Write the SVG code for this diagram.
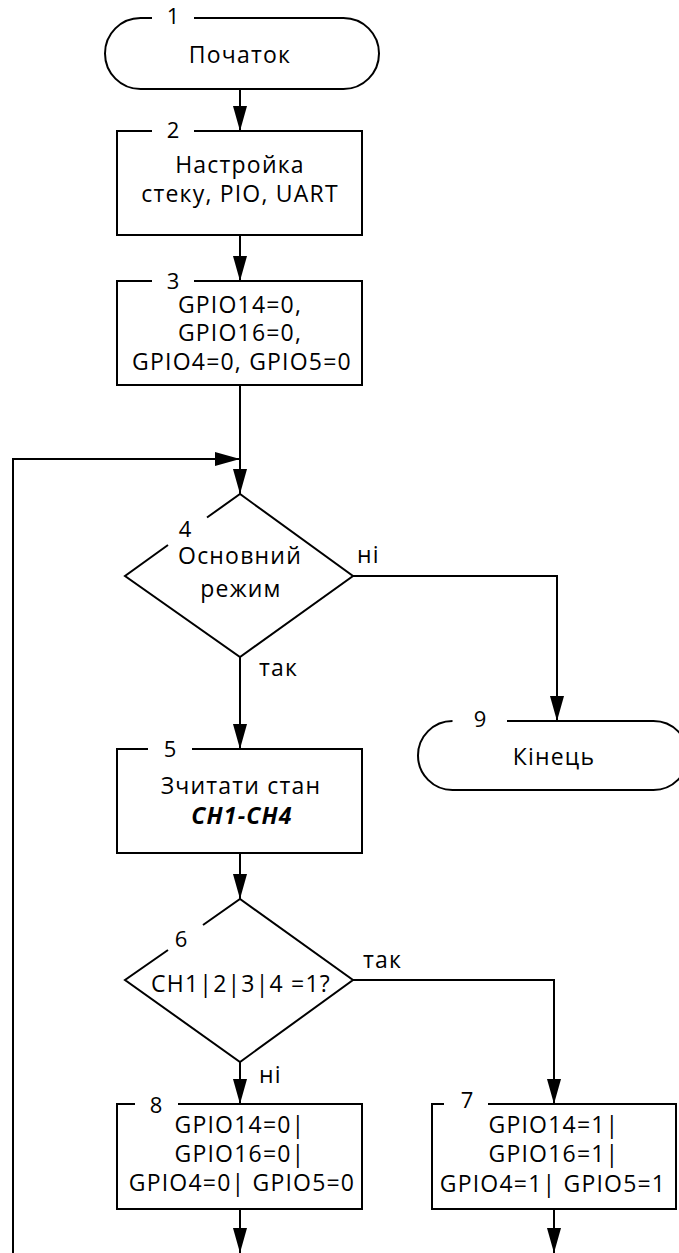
<svg xmlns="http://www.w3.org/2000/svg" width="679" height="1253" viewBox="0 0 679 1253">
<style>
  .shape { fill: none; stroke: #000; stroke-width: 2; }
  .line { fill: none; stroke: #000; stroke-width: 2; }
  text { font-family: "Open Sans", "Noto Sans", "DejaVu Sans", sans-serif; font-size: 23px; fill: #000; letter-spacing: 1.2px; }
  .c { text-anchor: middle; }
  .n { font-size: 22px; letter-spacing: 0; }
  .bi { font-weight: bold; font-style: italic; }
</style>
<defs>
  <marker id="arr" markerUnits="userSpaceOnUse" markerWidth="26" markerHeight="16" refX="25" refY="7" orient="auto">
    <path d="M0,0 L25,7 L0,14 Z" fill="#000"/>
  </marker>
</defs>
<rect width="679" height="1253" fill="#fff"/>

<g id="connectors">
  <path class="line" d="M240,89 V131" marker-end="url(#arr)"/>
  <path class="line" d="M240,235 V281" marker-end="url(#arr)"/>
  <path class="line" d="M240,385 V494" marker-end="url(#arr)"/>
  <path class="line" d="M13,1253 V459 H240" marker-end="url(#arr)"/>
  <path class="line" d="M353,576 H557 V721" marker-end="url(#arr)"/>
  <path class="line" d="M240,657 V749" marker-end="url(#arr)"/>
  <path class="line" d="M240,853 V899" marker-end="url(#arr)"/>
  <path class="line" d="M353,980 H554 V1104" marker-end="url(#arr)"/>
  <path class="line" d="M240,1062 V1104" marker-end="url(#arr)"/>
  <path class="line" d="M240,1209 V1253" marker-end="url(#arr)"/>
  <path class="line" d="M554,1209 V1253" marker-end="url(#arr)"/>
  <text x="357" y="563">ні</text>
  <text x="259" y="676">так</text>
  <text x="363" y="968">так</text>
  <text x="259" y="1083">ні</text>
</g>

<g id="node1">
  <path class="shape" d="M194,18 H343.5 A35.5,35.5 0 0 1 343.5,89 H140.5 A35.5,35.5 0 0 1 140.5,18 H152"/>
  <text class="c n" x="173" y="24">1</text>
  <text class="c" x="240" y="63">Початок</text>
</g>

<g id="node2">
  <path class="shape" d="M194,131 H362 V235 H117 V131 H152"/>
  <text class="c n" x="173" y="138">2</text>
  <text class="c" x="240" y="173">Настройка</text>
  <text class="c" x="240" y="202">стеку, PIO, UART</text>
</g>

<g id="node3">
  <path class="shape" d="M194,281 H362 V385 H117 V281 H152"/>
  <text class="c n" x="173" y="289">3</text>
  <text class="c" x="240" y="313">GPIO14=0,</text>
  <text class="c" x="240" y="341">GPIO16=0,</text>
  <text class="c" x="242" y="370">GPIO4=0, GPIO5=0</text>
</g>

<g id="node4">
  <path class="shape" d="M207,517.5 L240,494 L353,576 L240,657 L125,576 L168,545"/>
  <text class="c n" x="185" y="537">4</text>
  <text class="c" x="240" y="564">Основний</text>
  <text class="c" x="241" y="597">режим</text>
</g>

<g id="node9">
  <path class="shape" d="M507,721 H653.5 A34.5,34.5 0 0 1 653.5,790 H452.5 A34.5,34.5 0 0 1 452.5,721"/>
  <text class="c n" x="480" y="727">9</text>
  <text class="c" x="554" y="765">Кінець</text>
</g>

<g id="node5">
  <path class="shape" d="M192,749 H362 V853 H117 V749 H148"/>
  <text class="c n" x="170" y="757">5</text>
  <text class="c" x="241" y="794">Зчитати стан</text>
  <text class="c bi" x="242" y="824">CH1-CH4</text>
</g>

<g id="node6">
  <path class="shape" d="M203,925 L240,899 L353,980 L240,1062 L125,980 L168,950"/>
  <text class="c n" x="181" y="947">6</text>
  <text class="c" x="241" y="992">CH1|2|3|4 =1?</text>
</g>

<g id="node8">
  <path class="shape" d="M178,1104 H362 V1209 H117 V1104 H135"/>
  <text class="c n" x="156" y="1113">8</text>
  <text class="c" x="240" y="1133">GPIO14=0|</text>
  <text class="c" x="240" y="1162">GPIO16=0|</text>
  <text class="c" x="242" y="1191">GPIO4=0| GPIO5=0</text>
</g>

<g id="node7">
  <path class="shape" d="M488,1104 H676 V1209 H432 V1104 H444"/>
  <text class="c n" x="467" y="1108">7</text>
  <text class="c" x="554" y="1133">GPIO14=1|</text>
  <text class="c" x="554" y="1162">GPIO16=1|</text>
  <text class="c" x="553" y="1192">GPIO4=1| GPIO5=1</text>
</g>
</svg>
